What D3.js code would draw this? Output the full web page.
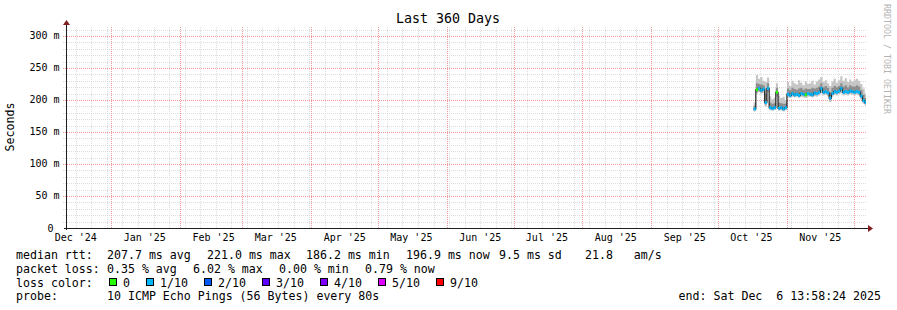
<!DOCTYPE html>
<html>
<head>
<script src="https://d3js.org/d3.v7.min.js"></script>
<style>
  body { margin: 0; background: #fff; }
  svg text { font-family: "DejaVu Sans Mono", monospace; fill: #000; white-space: pre; }
</style>
</head>
<body>
<svg width="897" height="310"></svg>
<script>
// ---- data ----
var days = [
  "2025-10-17","2025-10-18","2025-10-19","2025-10-20","2025-10-21","2025-10-22","2025-10-23","2025-10-24",
  "2025-10-25","2025-10-26","2025-10-27","2025-10-28","2025-10-29","2025-10-30","2025-10-31",
  "2025-11-01","2025-11-02","2025-11-03","2025-11-04","2025-11-05","2025-11-06","2025-11-07","2025-11-08",
  "2025-11-09","2025-11-10","2025-11-11","2025-11-12","2025-11-13","2025-11-14","2025-11-15","2025-11-16",
  "2025-11-17","2025-11-18","2025-11-19","2025-11-20","2025-11-21","2025-11-22","2025-11-23","2025-11-24",
  "2025-11-25","2025-11-26","2025-11-27","2025-11-28","2025-11-29","2025-11-30",
  "2025-12-01","2025-12-02","2025-12-03","2025-12-04","2025-12-05","2025-12-06"
];
// median rtt in ms
var median = [
  186, 216, 218, 215, 217, 196, 218, 188, 187, 188, 212, 187, 188, 186, 188,
  209, 207, 210, 208, 209, 207, 210, 209, 208, 210,
  209, 208, 211, 210, 212, 218, 212, 213, 211, 203,
  210, 213, 212, 214, 218, 212, 213, 212, 214, 213,
  212, 213, 212, 206, 199, 196
];
// smoke (spread of the 10 pings), ms
var smokeMax = [
  196, 239, 233, 236, 230, 228, 235, 206, 201, 204, 226, 207, 203, 205, 200,
  228, 222, 230, 226, 224, 231, 227, 223, 229, 225,
  226, 230, 224, 229, 232, 236, 228, 231, 226, 222,
  229, 233, 227, 231, 237, 230, 234, 228, 232, 229,
  231, 233, 230, 225, 218, 210
];
var smokeHigh = [
  191, 226, 225, 224, 223, 210, 226, 196, 194, 195, 219, 196, 195, 194, 194,
  218, 215, 219, 217, 216, 218, 219, 216, 218, 217,
  217, 219, 218, 219, 221, 226, 220, 222, 219, 212,
  219, 222, 220, 222, 226, 221, 223, 220, 223, 221,
  221, 223, 221, 215, 208, 203
];
var smokeLow = [
  184, 213, 215, 212, 214, 193, 215, 186, 185, 186, 209, 185, 186, 184, 186,
  207, 205, 208, 206, 207, 205, 208, 207, 206, 208,
  207, 206, 209, 208, 210, 215, 210, 211, 209, 200,
  208, 211, 210, 212, 215, 210, 211, 210, 212, 211,
  210, 211, 210, 204, 197, 194
];
var smokeMin = [
  182, 210, 212, 210, 211, 190, 212, 184, 183, 184, 205, 183, 184, 182, 184,
  204, 203, 205, 204, 205, 203, 205, 204, 203, 205,
  205, 204, 206, 205, 207, 211, 207, 208, 206, 197,
  205, 208, 207, 209, 211, 207, 208, 207, 209, 208,
  207, 208, 207, 201, 194, 191
];
// loss level per day (index into lossLabels)
var lossLevel = [
  1, 0, 1, 1, 1, 1, 1, 1, 1, 1, 0, 1, 1, 1, 1,
  1, 1, 1, 1, 1, 1, 1, 1, 0, 1,
  1, 1, 1, 1, 1, 1, 1, 1, 1, 1,
  1, 1, 1, 1, 1, 1, 1, 1, 1, 1,
  1, 1, 1, 1, 1, 1
];
var lossLabels = ["0", "1/10", "2/10", "3/10", "4/10", "5/10", "9/10"];
var lossColors = ["#26ff00", "#00b8ff", "#0059ff", "#5e00ff", "#7e00ff", "#dd00ff", "#ff0000"];
var yTicks = [0, 50, 100, 150, 200, 250, 300];

var medianStats = ["207.7 ms avg", "221.0 ms max", "186.2 ms min", "196.9 ms now", "9.5 ms sd", "21.8   am/s"];
var lossStats = ["0.35 % avg", "6.02 % max", "0.00 % min", "0.79 % now"];
var probeText = "10 ICMP Echo Pings (56 Bytes) every 80s";
var endText = "end: Sat Dec  6 13:58:24 2025";

// ---- layout ----
var svg = d3.select("svg");
var startTime = new Date(2024, 11, 11, 13, 58, 24),
    endTime = new Date(2025, 11, 6, 13, 58, 24);
var plotLeft = 66, plotRight = 866, plotTop = 27, plotBottom = 228;

var x = d3.scaleTime().domain([startTime, endTime]).range([plotLeft, plotRight]);
var y = d3.scaleLinear().domain([0, 314]).range([plotBottom, plotTop]);
var parseDay = d3.timeParse("%Y-%m-%d");

var px = function(v) { return Math.round(v) + 0.5; };
var minorCol = "#dddddd", majorCol = "#f39a9a";

// grid
var grid = svg.append("g")
  .attr("stroke-dasharray", "1,1")
  .attr("shape-rendering", "crispEdges");
d3.range(10, 314, 10).forEach(function(v) {
  var major = v % 50 === 0;
  grid.append("line")
    .attr("x1", plotLeft - 3).attr("x2", plotRight)
    .attr("y1", px(y(v))).attr("y2", px(y(v)))
    .attr("stroke", major ? majorCol : minorCol);
});
d3.timeMonday.range(startTime, endTime).forEach(function(t) {
  grid.append("line")
    .attr("x1", px(x(t))).attr("x2", px(x(t)))
    .attr("y1", plotTop).attr("y2", plotBottom)
    .attr("stroke", minorCol);
});
d3.timeMonth.range(startTime, endTime).forEach(function(t) {
  grid.append("line")
    .attr("x1", px(x(t))).attr("x2", px(x(t)))
    .attr("y1", plotTop).attr("y2", plotBottom)
    .attr("stroke", majorCol);
});

// data points (+ the last value held until the end of the graph)
var pts = days.map(function(d, i) {
  return { t: parseDay(d), med: median[i], mn: smokeMin[i], lo: smokeLow[i],
           hi: smokeHigh[i], mx: smokeMax[i], loss: lossLevel[i] };
});
var last = Object.assign({}, pts[pts.length - 1], { t: endTime });
var ptsEnd = pts.concat([last]);

var plot = svg.append("g");
plot.append("path").datum(ptsEnd)
  .attr("fill", "#c6c6c6")
  .attr("d", d3.area().curve(d3.curveStepAfter)
    .x(function(d) { return x(d.t); })
    .y0(function(d) { return y(d.mn); })
    .y1(function(d) { return y(d.mx); }));
plot.append("path").datum(ptsEnd)
  .attr("fill", "#8e8e8e")
  .attr("d", d3.area().curve(d3.curveStepAfter)
    .x(function(d) { return x(d.t); })
    .y0(function(d) { return y(d.lo); })
    .y1(function(d) { return y(d.hi); }));

plot.append("path").datum(ptsEnd)
  .attr("fill", "none")
  .attr("stroke", "#202020")
  .attr("stroke-width", 1.2)
  .attr("d", d3.line().curve(d3.curveStepAfter)
    .x(function(d) { return x(d.t); })
    .y(function(d) { return y(d.med); }));

plot.selectAll("rect.loss").data(pts).enter().append("rect")
  .attr("class", "loss")
  .attr("x", function(d) { return x(d.t); })
  .attr("width", function(d, i) { return x(ptsEnd[i + 1].t) - x(d.t); })
  .attr("y", function(d) { return y(d.med) - 1.5; })
  .attr("height", 3)
  .attr("fill", function(d) { return lossColors[d.loss]; });

// axes
var axis = svg.append("g");
axis.append("line").attr("x1", plotLeft - 2).attr("x2", plotRight + 3)
  .attr("y1", plotBottom + 0.5).attr("y2", plotBottom + 0.5).attr("stroke", "#1f1f1f");
axis.append("line").attr("x1", plotLeft + 0.5).attr("x2", plotLeft + 0.5)
  .attr("y1", plotBottom + 2).attr("y2", plotTop - 3).attr("stroke", "#1f1f1f");
axis.append("path").attr("fill", "#801f1f")
  .attr("d", "M" + (plotRight + 2) + "," + (plotBottom - 3) + "L" + (plotRight + 7) + "," + (plotBottom + 0.5) + "L" + (plotRight + 2) + "," + (plotBottom + 4) + "Z");
axis.append("path").attr("fill", "#801f1f")
  .attr("d", "M" + (plotLeft - 3) + "," + (plotTop - 2) + "L" + (plotLeft + 0.5) + "," + (plotTop - 7) + "L" + (plotLeft + 4) + "," + (plotTop - 2) + "Z");

axis.selectAll("text.ytick").data(yTicks).enter().append("text")
  .attr("class", "ytick")
  .attr("x", 59.5).attr("y", function(d) { return y(d) + 3.5; })
  .attr("text-anchor", "end")
  .style("font-size", "10px")
  .text(function(d) { return d === 0 ? "0 " : d + " m"; });

var monthTicks = d3.timeMonth.range(d3.timeMonth.floor(startTime), endTime)
  .map(function(t) { return d3.timeDay.offset(t, 15); })
  .filter(function(t) { return t >= startTime && t <= endTime; });
var fmtMonth = d3.timeFormat("%b '%y");
axis.selectAll("text.xtick").data(monthTicks).enter().append("text")
  .attr("class", "xtick")
  .attr("x", function(d) { return x(d); }).attr("y", 241)
  .attr("text-anchor", "middle")
  .style("font-size", "10px")
  .text(fmtMonth);

// titles
svg.append("text").attr("x", 448).attr("y", 23).attr("text-anchor", "middle")
  .style("font-size", "13.3px").text("Last 360 Days");
svg.append("text").attr("transform", "translate(14,127) rotate(-90)")
  .attr("text-anchor", "middle").style("font-size", "11.6px").text("Seconds");
svg.append("text").attr("transform", "translate(884,59) rotate(90)")
  .attr("text-anchor", "middle").style("font-size", "8.3px")
  .style("fill", "#b4b4b4").text("RRDTOOL / TOBI OETIKER");

// legend
var leg = svg.append("g").style("font-size", "11.6px");
function row(yy, items) {
  items.forEach(function(it) {
    leg.append("text").attr("x", it[0]).attr("y", yy).text(it[1]);
  });
}
row(259, [[16, "median rtt:"]].concat(medianStats.map(function(s, i) {
  return [[107, 207, 306, 406, 499, 585][i], s];
})));
row(272.5, [[16, "packet loss:"]].concat(lossStats.map(function(s, i) {
  return [107 + i * 86, s];
})));
row(286.5, [[16, "loss color:"]]);
var lx = 109;
lossLabels.forEach(function(lbl, i) {
  leg.append("rect").attr("x", lx + 0.5).attr("y", 278.5).attr("width", 7).attr("height", 7)
    .attr("fill", lossColors[i]).attr("stroke", "#000");
  leg.append("text").attr("x", lx + 14).attr("y", 286.5).text(lbl);
  lx += 14 + lbl.length * 7 + 16;
});
row(300, [[16, "probe:"], [107, probeText]]);
leg.append("text").attr("x", 881).attr("y", 300).attr("text-anchor", "end").text(endText);
</script>
</body>
</html>
